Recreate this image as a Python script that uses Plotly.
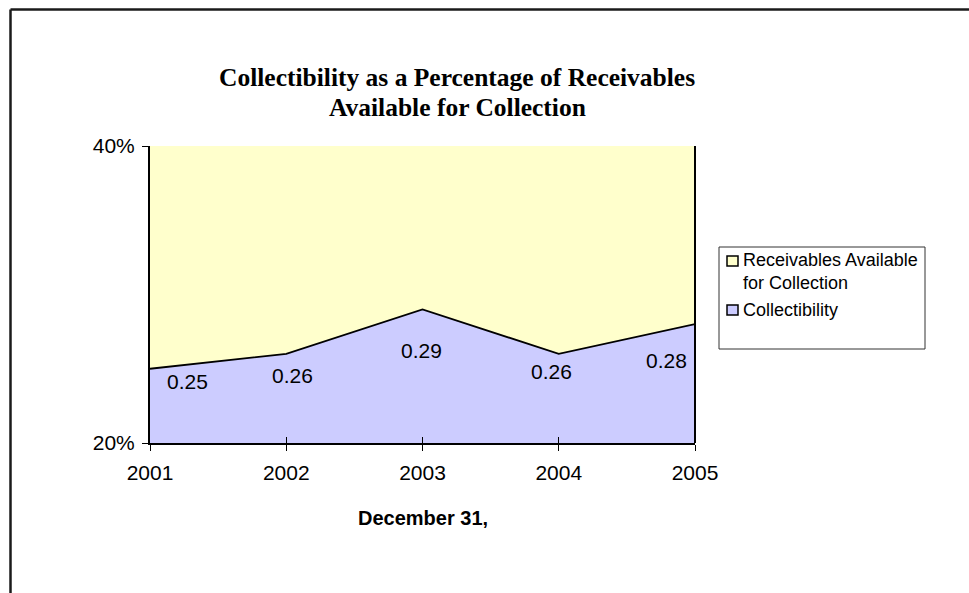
import plotly.graph_objects as go

# Data
years = [2001, 2002, 2003, 2004, 2005]
collectibility = [0.25, 0.26, 0.29, 0.26, 0.28]
receivables = [1.0, 1.0, 1.0, 1.0, 1.0]
series_names = ["Receivables Available<br>for Collection", "Collectibility"]

# Label offsets in px (right, down) relative to each point
label_dx = [37, 6, -1, -7, -29]
label_dy = [13, 22, 41, 18, 36]

W, H = 969, 593
L, R, T, B = 150, 695, 146, 443  # plot area in px

YELLOW = "#FFFFCC"
BLUE = "#CCCCFF"
SANS = "Liberation Sans, Arial, sans-serif"
SERIF = "Liberation Serif, Times New Roman, serif"


def px_x(x):
    return (x - L) / (R - L)


def px_y(y):
    return (B - y) / (B - T)


fig = go.Figure()

# Receivables area (fills everything beneath; collectibility drawn over it)
fig.add_trace(go.Scatter(
    x=years, y=receivables, mode="lines", fill="tozeroy",
    fillcolor=YELLOW, line=dict(width=0, color=YELLOW),
    name="Receivables Available for Collection",
    showlegend=False, hoverinfo="skip"))

# Collectibility area with black edge
fig.add_trace(go.Scatter(
    x=years, y=collectibility, mode="lines", fill="tozeroy",
    fillcolor=BLUE, line=dict(width=1.8, color="black"),
    name="Collectibility", showlegend=False))

# Empty trace so the overlaid tick axis (inner half of the cross ticks) is drawn
fig.add_trace(go.Scatter(x=[], y=[], xaxis="x2", showlegend=False,
                         hoverinfo="skip"))

annotations = []
for yr, v, dx, dy in zip(years, collectibility, label_dx, label_dy):
    annotations.append(dict(
        x=yr, y=v, xref="x", yref="y", text=f"{v:.2f}", showarrow=False,
        xanchor="center", yanchor="middle", xshift=dx, yshift=-dy,
        font=dict(family=SANS, size=21, color="black")))

# Title (two centred lines)
for text, ty in [("Collectibility as a Percentage of Receivables", 77),
                 ("Available for Collection", 107)]:
    annotations.append(dict(
        x=px_x(457), y=px_y(ty), xref="paper", yref="paper",
        showarrow=False, text=f"<b>{text}</b>",
        xanchor="center", yanchor="middle",
        font=dict(family=SERIF, size=25.5, color="black")))

# Legend: box, swatches and labels
legend_items = [(series_names[0], YELLOW, 261, 271.5),
                (series_names[1], BLUE, 310, 310)]

shapes = [
    # right edge of the plot area
    dict(type="line", xref="paper", yref="paper", x0=1, x1=1, y0=0, y1=1,
         line=dict(color="black", width=2)),
    # legend box
    dict(type="rect", xref="paper", yref="paper",
         x0=px_x(719), x1=px_x(925), y0=px_y(247), y1=px_y(349),
         line=dict(color="#333333", width=1), fillcolor="white"),
    # outer chart frame (top and left)
    dict(type="line", xref="paper", yref="paper",
         x0=px_x(10.5), x1=px_x(W + 5), y0=px_y(9.5), y1=px_y(9.5),
         line=dict(color="#1a1a1a", width=2.5)),
    dict(type="line", xref="paper", yref="paper",
         x0=px_x(10.5), x1=px_x(10.5), y0=px_y(9.5), y1=px_y(H + 5),
         line=dict(color="#1a1a1a", width=2.5)),
]

for name, col, sy, ty in legend_items:
    shapes.append(dict(
        type="rect", xref="paper", yref="paper",
        x0=px_x(727), x1=px_x(738), y0=px_y(sy + 5), y1=px_y(sy - 5),
        line=dict(color="black", width=1.5), fillcolor=col))
    annotations.append(dict(
        x=px_x(741), y=px_y(ty), xref="paper", yref="paper",
        showarrow=False, text=name, align="left",
        xanchor="left", yanchor="middle",
        font=dict(family=SANS, size=18, color="black")))

# Axis title
annotations.append(dict(
    x=0.5, y=px_y(518), xref="paper", yref="paper", showarrow=False,
    text="<b>December 31,</b>", xanchor="center", yanchor="middle",
    font=dict(family=SANS, size=20, color="black")))

fig.update_layout(
    width=W, height=H,
    margin=dict(l=L, r=W - R, t=T, b=H - B, pad=0),
    paper_bgcolor="white", plot_bgcolor="white",
    showlegend=False,
    annotations=annotations,
    shapes=shapes,
    xaxis=dict(
        range=[2001, 2005], tickmode="array", tickvals=years,
        ticktext=[str(y) for y in years],
        showgrid=False, zeroline=False,
        showline=True, linecolor="black", linewidth=2,
        ticks="outside", ticklen=6, tickwidth=1, tickcolor="black",
        ticklabelstandoff=4,
        tickfont=dict(family=SANS, size=21, color="black")),
    xaxis2=dict(
        overlaying="x", range=[2001, 2005], tickmode="array",
        tickvals=years, showticklabels=False, showgrid=False,
        zeroline=False, ticks="inside", ticklen=6, tickwidth=1,
        tickcolor="black", showline=False, side="bottom"),
    yaxis=dict(
        range=[0.2, 0.4], dtick=0.2, tick0=0.2, tickformat=".0%",
        showgrid=False, zeroline=False,
        showline=True, linecolor="black", linewidth=2,
        ticks="outside", ticklen=6, tickwidth=1, tickcolor="black",
        ticklabelstandoff=3,
        tickfont=dict(family=SANS, size=21, color="black")),
)

fig.write_html("out.html")
